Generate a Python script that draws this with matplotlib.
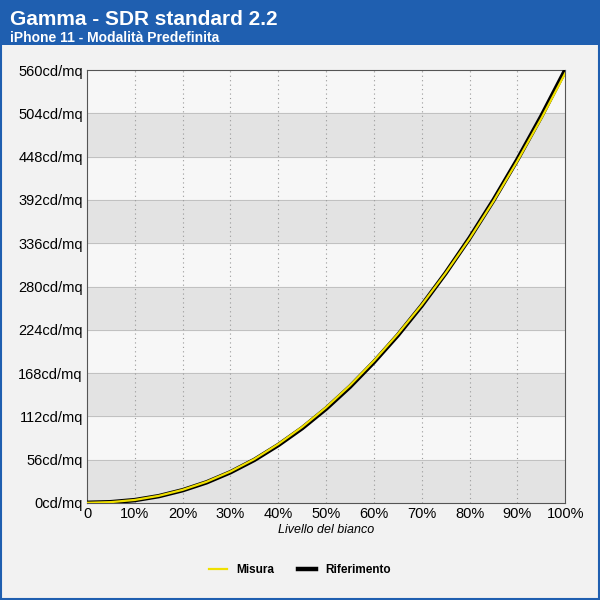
import matplotlib
matplotlib.use('Agg')
import matplotlib.pyplot as plt
import matplotlib.patches as mpatches

plt.rcParams['font.family'] = 'Liberation Sans'

livello = [0, 5, 10, 15, 20, 25, 30, 35, 40, 45, 50, 55, 60, 65, 70, 75, 80, 85, 90, 95, 100]
riferimento = [0, 0.8, 3.5, 8.6, 16.3, 26.5, 39.6, 55.6, 74.8, 96.7, 121.9, 150.3, 182.2,
               217.0, 255.4, 297.4, 342.7, 391.7, 444.3, 500.3, 560]
misura = [0, 0.9, 3.7, 9.0, 16.8, 27.2, 40.5, 56.6, 76.0, 98.2, 123.5, 152.0, 183.8,
          218.5, 256.3, 297.5, 342.0, 390.5, 442.5, 497.5, 556]
yticks = [0, 56, 112, 168, 224, 280, 336, 392, 448, 504, 560]
xticks = [0, 10, 20, 30, 40, 50, 60, 70, 80, 90, 100]

fig = plt.figure(figsize=(6, 6), dpi=100)
fig.patch.set_facecolor('#f2f2f2')
fig.patches.append(mpatches.Rectangle((0, 0.925), 1, 0.075, transform=fig.transFigure,
                                      facecolor='#1f5fb0', edgecolor='none', zorder=0))
fig.patches.append(mpatches.Rectangle((0.001, 0.001), 0.998, 0.998, transform=fig.transFigure,
                                      facecolor='none', edgecolor='#1f5fb0', lw=1.5, zorder=5))
fig.text(0.017, 0.967, 'Gamma - SDR standard 2.2', color='white', fontsize=15, fontweight='bold', va='center')
fig.text(0.017, 0.937, 'iPhone 11 - Modalità Predefinita', color='white', fontsize=10, fontweight='bold', va='center')

ax = fig.add_axes([0.145, 0.162, 0.797, 0.721])
ax.set_facecolor('#f7f7f7')
for i in range(0, len(yticks) - 1, 2):
    ax.axhspan(yticks[i], yticks[i + 1], color='#e3e3e3', zorder=0)
for y in yticks:
    ax.axhline(y, color='#bbbbbb', lw=0.6, zorder=1)
for x in xticks[1:-1]:
    ax.axvline(x, color='#999999', lw=0.8, ls=(0, (1, 3)), zorder=1)

ax.plot(livello, riferimento, color='black', lw=3.2, zorder=3, label='Riferimento')
ax.plot(livello, misura, color='#f0e000', lw=1.6, zorder=4, label='Misura')

ax.set_xlim(0, 100)
ax.set_ylim(0, 560)
ax.set_xticks(xticks)
ax.set_xticklabels(['0'] + ['%d%%' % x for x in xticks[1:]], fontsize=10.5)
ax.set_yticks(yticks)
ax.set_yticklabels(['%dcd/mq' % y for y in yticks], fontsize=10.5)
ax.tick_params(length=0, pad=3)
for s in ax.spines.values():
    s.set_color('#555555')
ax.set_xlabel('Livello del bianco', fontsize=9, style='italic', labelpad=2)

h, l = ax.get_legend_handles_labels()
fig.legend([h[1], h[0]], [l[1], l[0]], loc='center', bbox_to_anchor=(0.5, 0.05), ncol=2,
           frameon=False, prop={'weight': 'bold', 'size': 8.5}, handlelength=1.5, columnspacing=2)

fig.savefig('out.png')
